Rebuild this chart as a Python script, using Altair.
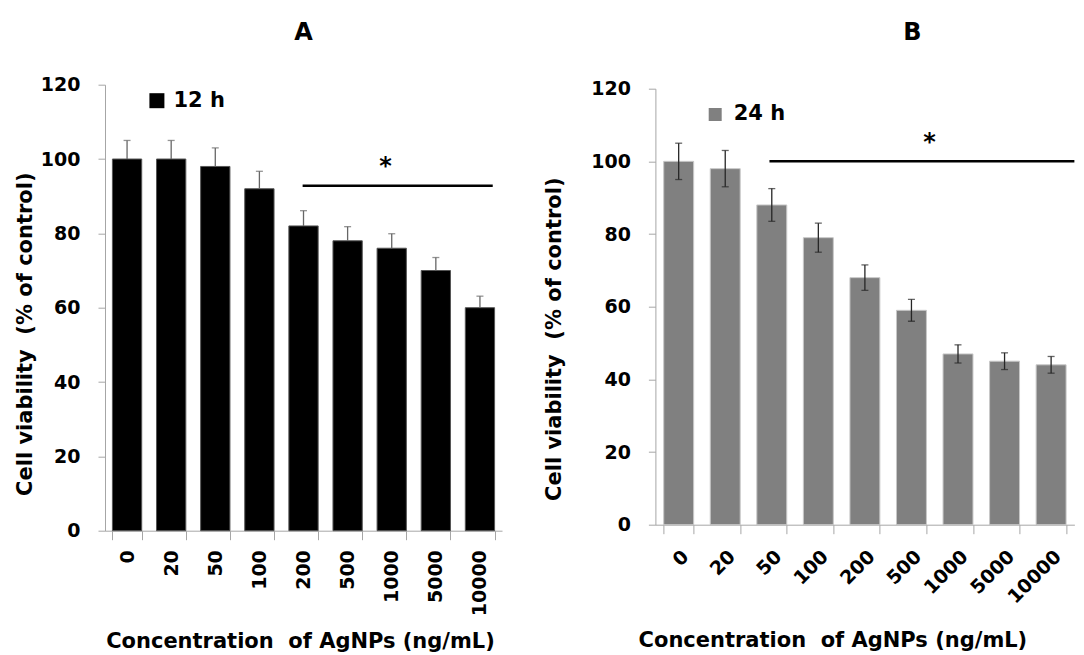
import altair as alt
import pandas as pd

categories = ["0", "20", "50", "100", "200", "500", "1000", "5000", "10000"]
viability_12h = [100, 100, 98, 92, 82, 78, 76, 70, 60]
error_12h = [5.0, 5.0, 5.0, 4.7, 4.1, 3.8, 3.9, 3.5, 3.1]
viability_24h = [100, 98, 88, 79, 68, 59, 47, 45, 44]
error_24h = [5.0, 5.0, 4.5, 4.0, 3.5, 3.0, 2.5, 2.3, 2.3]
y_tick_values = [0, 20, 40, 60, 80, 100, 120]

# significance bar (x in category-index units, y in % of control) and star position
sig_12h = {"x_from": 4.48, "x_to": 8.79, "y": 92.8, "star_x": 6.36, "star_y": 99.7}
sig_24h = {"x_from": 2.45, "x_to": 9.0, "y": 100.0, "star_x": 5.89, "star_y": 107.1}

FONT = "DejaVu Sans"
AXIS_GRAY = "#a6a6a6"
Y_TITLE = "Cell viability\u00a0 (% of control)"
X_TITLE = "Concentration\u00a0 of AgNPs (ng/mL)"


def panel(title, series, values, errors, two_sided, sig, color, bar_stroke, err_color,
          width, height, y_range, band_pad, x_axis_kw, y_axis_kw, legend_kw, title_kw):
    df = pd.DataFrame({
        "conc": categories,
        "value": values,
        "low": [v - e if two_sided else v for v, e in zip(values, errors)],
        "high": [v + e for v, e in zip(values, errors)],
        "series": [series] * len(categories),
    })
    xscale = alt.Scale(domain=categories, paddingInner=band_pad, paddingOuter=band_pad / 2)
    yscale = alt.Scale(domain=[0, 120], nice=False, range=y_range)
    yaxis = alt.Axis(values=y_tick_values, title=Y_TITLE, grid=False, tickSize=7,
                     labelPadding=18, domainColor=AXIS_GRAY, tickColor=AXIS_GRAY,
                     titleAngle=-90, titleAlign="center", titleBaseline="middle",
                     **y_axis_kw)
    xaxis = alt.Axis(title=X_TITLE, tickBand="extent", tickSize=9,
                     domainColor=AXIS_GRAY, tickColor=AXIS_GRAY,
                     titleAlign="center", titleBaseline="alphabetic", **x_axis_kw)
    x = alt.X("conc:N", sort=categories, scale=xscale, axis=xaxis)

    bars = alt.Chart(df).mark_bar(stroke=bar_stroke, strokeWidth=1).encode(
        x=x,
        y=alt.Y("value:Q", scale=yscale, axis=yaxis),
        color=alt.Color("series:N", scale=alt.Scale(domain=[series], range=[color]),
                        legend=alt.Legend(title=None, orient="none", symbolType="square",
                                          symbolStrokeWidth=0, padding=0,
                                          labelFont=FONT, labelFontWeight="bold",
                                          labelFontSize=21, labelColor="black",
                                          **legend_kw)),
    )
    whisk = alt.Chart(df).mark_rule(color=err_color, strokeWidth=1.3).encode(
        x=x, y=alt.Y("low:Q", scale=yscale, axis=yaxis), y2="high:Q")
    cap_hi = alt.Chart(df).mark_tick(color=err_color, thickness=1.3, size=7).encode(
        x=x, y=alt.Y("high:Q", scale=yscale, axis=yaxis))
    layers = [bars, whisk, cap_hi]
    if two_sided:
        cap_lo = alt.Chart(df).mark_tick(color=err_color, thickness=1.3, size=7).encode(
            x=x, y=alt.Y("low:Q", scale=yscale, axis=yaxis))
        layers.append(cap_lo)
    base = alt.layer(*layers)

    sdf = pd.DataFrame([sig])
    sx = alt.Scale(domain=[0, 9], nice=False, zero=False)
    sig_rule = alt.Chart(sdf).mark_rule(color="black", strokeWidth=2.5).encode(
        x=alt.X("x_from:Q", scale=sx, axis=None), x2="x_to:Q",
        y=alt.Y("y:Q", scale=yscale, axis=yaxis))
    star = alt.Chart(sdf).mark_text(text="*", font=FONT, fontWeight="bold", fontSize=24,
                                    color="black", baseline="middle", dy=7).encode(
        x=alt.X("star_x:Q", scale=sx, axis=None),
        y=alt.Y("star_y:Q", scale=yscale, axis=yaxis))
    over = alt.layer(sig_rule, star)

    return alt.layer(base, over).resolve_scale(x="independent").properties(
        width=width, height=height,
        title=alt.TitleParams(text=title, font=FONT, fontWeight="bold", fontSize=24,
                              color="black", anchor="middle", frame="group",
                              baseline="alphabetic", **title_kw),
    )


chart_a = panel(
    "A", "12 h", viability_12h, error_12h, False, sig_12h,
    color="black", bar_stroke="#555555", err_color="#666666",
    width=397, height=446, y_range=[446, 0], band_pad=0.336,
    x_axis_kw=dict(labelAngle=-90, labelAlign="right", labelBaseline="middle",
                   labelPadding=10, titleX=195, titleY=117),
    y_axis_kw=dict(titleX=-80, titleY=249),
    legend_kw=dict(legendX=41.4, legendY=5.5, symbolSize=225, labelOffset=6),
    title_kw=dict(offset=11.2),
)

chart_b = panel(
    "B", "24 h", viability_24h, error_24h, True, sig_24h,
    color="#808080", bar_stroke="#c8c8c8", err_color="#262626",
    width=419, height=440, y_range=[440, 4], band_pad=0.357,
    x_axis_kw=dict(labelAngle=-45, labelAlign="right", labelBaseline="top",
                   labelPadding=13, labelOffset=0, titleX=177, titleY=122),
    y_axis_kw=dict(titleX=-101, titleY=254),
    legend_kw=dict(legendX=49.3, legendY=19.3, symbolSize=169, labelOffset=8),
    title_kw=dict(offset=15.7, dx=47.5),
)

chart = alt.hconcat(chart_a, chart_b, spacing=40.4).resolve_scale(
    color="independent", x="independent", y="independent"
).resolve_legend(color="independent").properties(
    padding={"left": 5, "top": 12.7, "right": 0, "bottom": 2}
).configure_view(stroke=None).configure_axis(
    labelFont=FONT, labelFontWeight="bold", labelFontSize=19, labelColor="black",
    titleFont=FONT, titleFontWeight="bold", titleFontSize=21, titleColor="black",
)

chart.save("out.html", embed_options={"renderer": "svg", "actions": False})
